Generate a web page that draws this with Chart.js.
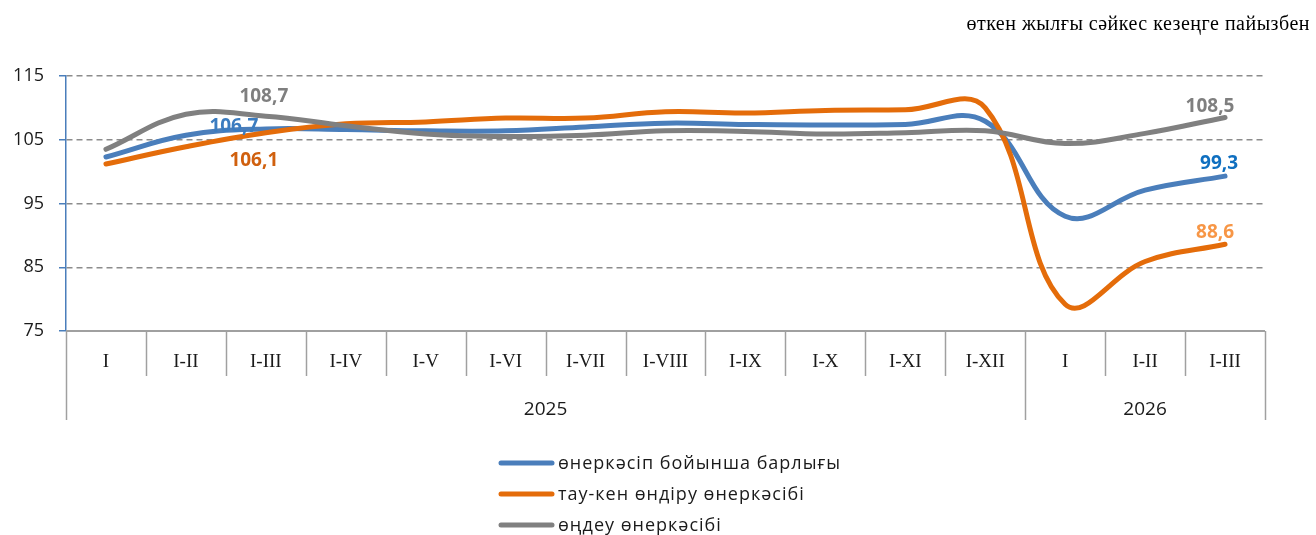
<!DOCTYPE html>
<html>
<head>
<meta charset="utf-8">
<script src="https://cdn.jsdelivr.net/npm/chart.js@4.4.1/dist/chart.umd.min.js"></script>
<style>
  body { margin: 0; background: #fff; }
  #wrap { width: 1316px; height: 535px; position: relative; }
</style>
</head>
<body>
<div id="wrap"><canvas id="myChart" width="1316" height="535"></canvas></div>
<script>
const months = ['I', 'I-II', 'I-III', 'I-IV', 'I-V', 'I-VI', 'I-VII', 'I-VIII', 'I-IX', 'I-X', 'I-XI', 'I-XII', 'I', 'I-II', 'I-III']
const years = ['2025', '2026']
const yearMonths = [12, 3]

const totalIndex = [102.3, 105.7, 106.7, 106.6, 106.4, 106.4, 107.0, 107.6, 107.4, 107.3, 107.4, 107.9, 93.0, 97.1, 99.3]
const miningIndex = [101.2, 103.9, 106.1, 107.5, 107.8, 108.4, 108.4, 109.4, 109.2, 109.6, 109.7, 110.0, 79.2, 85.9, 88.6]
const manufIndex = [103.5, 109.0, 108.7, 107.2, 105.9, 105.5, 105.7, 106.4, 106.3, 105.9, 106.1, 106.4, 104.4, 106.0, 108.5]

const seriesNames = ['өнеркәсіп бойынша барлығы', 'тау-кен өндіру өнеркәсібі', 'өңдеу өнеркәсібі']
const unitText = 'өткен жылғы сәйкес кезеңге пайызбен'

// which points get a value label: [dataset, index, dx, dy, colour]
const valueLabels = [
    [2, 2, -2, -20, '#7f7f7f'],
    [0, 2, -32, -2, '#3b7cc0'],
    [1, 2, -12, 28, '#d0600e'],
    [2, 14, -15, -11, '#7f7f7f'],
    [0, 14, -6, -12, '#0f6fc0'],
    [1, 14, -10, -12, '#f79646']
]

const colors = ['#4a7ebb', '#e46c0a', '#808080']
const sansFont = '"Open Sans", "Noto Sans", sans-serif'
const fmt = v => v.toFixed(1).replace('.', ',')

const axisPlugin = {
    id: 'axisPlugin',
    afterDraw(chart) {
        const ctx = chart.ctx
        const area = chart.chartArea
        const x = chart.scales.x
        const w = (area.right - area.left) / months.length
        ctx.save()
        // bottom axis line
        ctx.strokeStyle = '#a0a0a0'
        ctx.lineWidth = 2
        ctx.beginPath()
        ctx.moveTo(area.left, area.bottom)
        ctx.lineTo(area.right, area.bottom)
        ctx.stroke()

        // separators between months, long ones between years
        const yearEdges = [0]
        yearMonths.reduce((acc, n) => { yearEdges.push(acc + n); return acc + n }, 0)
        ctx.lineWidth = 1.5
        for (let i = 0; i <= months.length; i++) {
            const px = Math.round(area.left + i * w) + 0.5
            const longLine = yearEdges.includes(i)
            ctx.beginPath()
            ctx.moveTo(px, area.bottom)
            ctx.lineTo(px, longLine ? 420 : 376)
            ctx.stroke()
        }

        ctx.fillStyle = '#1a1a1a'
        ctx.textAlign = 'center'
        ctx.textBaseline = 'middle'
        ctx.font = '19px "Liberation Serif", serif'
        months.forEach((m, i) => {
            ctx.fillText(m, x.getPixelForValue(i), 362)
        })
        ctx.font = '19px ' + sansFont
        years.forEach((yr, j) => {
            const a = yearEdges[j], b = yearEdges[j + 1]
            ctx.fillText(yr, area.left + (a + b) / 2 * w, 410)
        })

        // legend
        ctx.textAlign = 'left'
        ctx.font = '18px ' + sansFont
        ctx.letterSpacing = '1px'
        ctx.lineCap = 'round'
        seriesNames.forEach((name, i) => {
            const ly = 463 + i * 31
            ctx.strokeStyle = colors[i]
            ctx.lineWidth = 5
            ctx.beginPath()
            ctx.moveTo(501, ly)
            ctx.lineTo(552, ly)
            ctx.stroke()
            ctx.fillStyle = '#1a1a1a'
            ctx.fillText(name, 558, ly + 1)
        })

        // unit caption
        ctx.textAlign = 'right'
        ctx.font = '20px "Liberation Serif", serif'
        ctx.letterSpacing = '0.5px'
        ctx.fillStyle = '#000'
        ctx.fillText(unitText, 1310, 25)
        ctx.restore()
    },
    afterDatasetsDraw(chart) {
        const ctx = chart.ctx
        ctx.save()
        ctx.font = 'bold 19px ' + sansFont
        ctx.textAlign = 'center'
        ctx.textBaseline = 'middle'
        valueLabels.forEach(([d, i, dx, dy, c]) => {
            const pt = chart.getDatasetMeta(d).data[i]
            ctx.fillStyle = c
            ctx.fillText(fmt(chart.data.datasets[d].data[i]), pt.x + dx, pt.y + dy)
        })
        ctx.restore()
    }
}

const makeSet = (i, data, order) => ({
    label: seriesNames[i],
    data: data,
    borderColor: colors[i],
    backgroundColor: colors[i],
    borderWidth: 5,
    borderCapStyle: 'round',
    pointRadius: 0,
    tension: 0.4,
    fill: false,
    order: order
})

const myChart = new Chart(document.getElementById('myChart'), {
    type: 'line',
    data: {
        labels: months,
        datasets: [makeSet(0, totalIndex, 2), makeSet(1, miningIndex, 1), makeSet(2, manufIndex, 0)]
    },
    options: {
        responsive: false,
        animation: false,
        layout: { padding: { top: 76, right: 51, left: 0, bottom: 0 } },
        plugins: { legend: { display: false }, tooltip: { enabled: false } },
        scales: {
            x: {
                offset: true,
                grid: { display: false },
                border: { display: false },
                ticks: { display: false },
                afterFit: s => { s.height = 204 }
            },
            y: {
                min: 75,
                max: 115,
                ticks: {
                    stepSize: 10,
                    padding: 15,
                    color: '#1a1a1a',
                    font: { size: 18, family: sansFont }
                },
                grid: {
                    color: c => c.tick && c.tick.value === 75 ? 'rgba(0,0,0,0)' : '#8c8c8c',
                    lineWidth: 1.5,
                    tickColor: '#4a7ebb',
                    tickLength: 7,
                    tickBorderDash: []
                },
                border: { color: '#4a7ebb', width: 1.5, dash: [6, 4] },
                afterFit: s => { s.width = 66 }
            }
        }
    },
    plugins: [axisPlugin]
})
</script>
</body>
</html>
